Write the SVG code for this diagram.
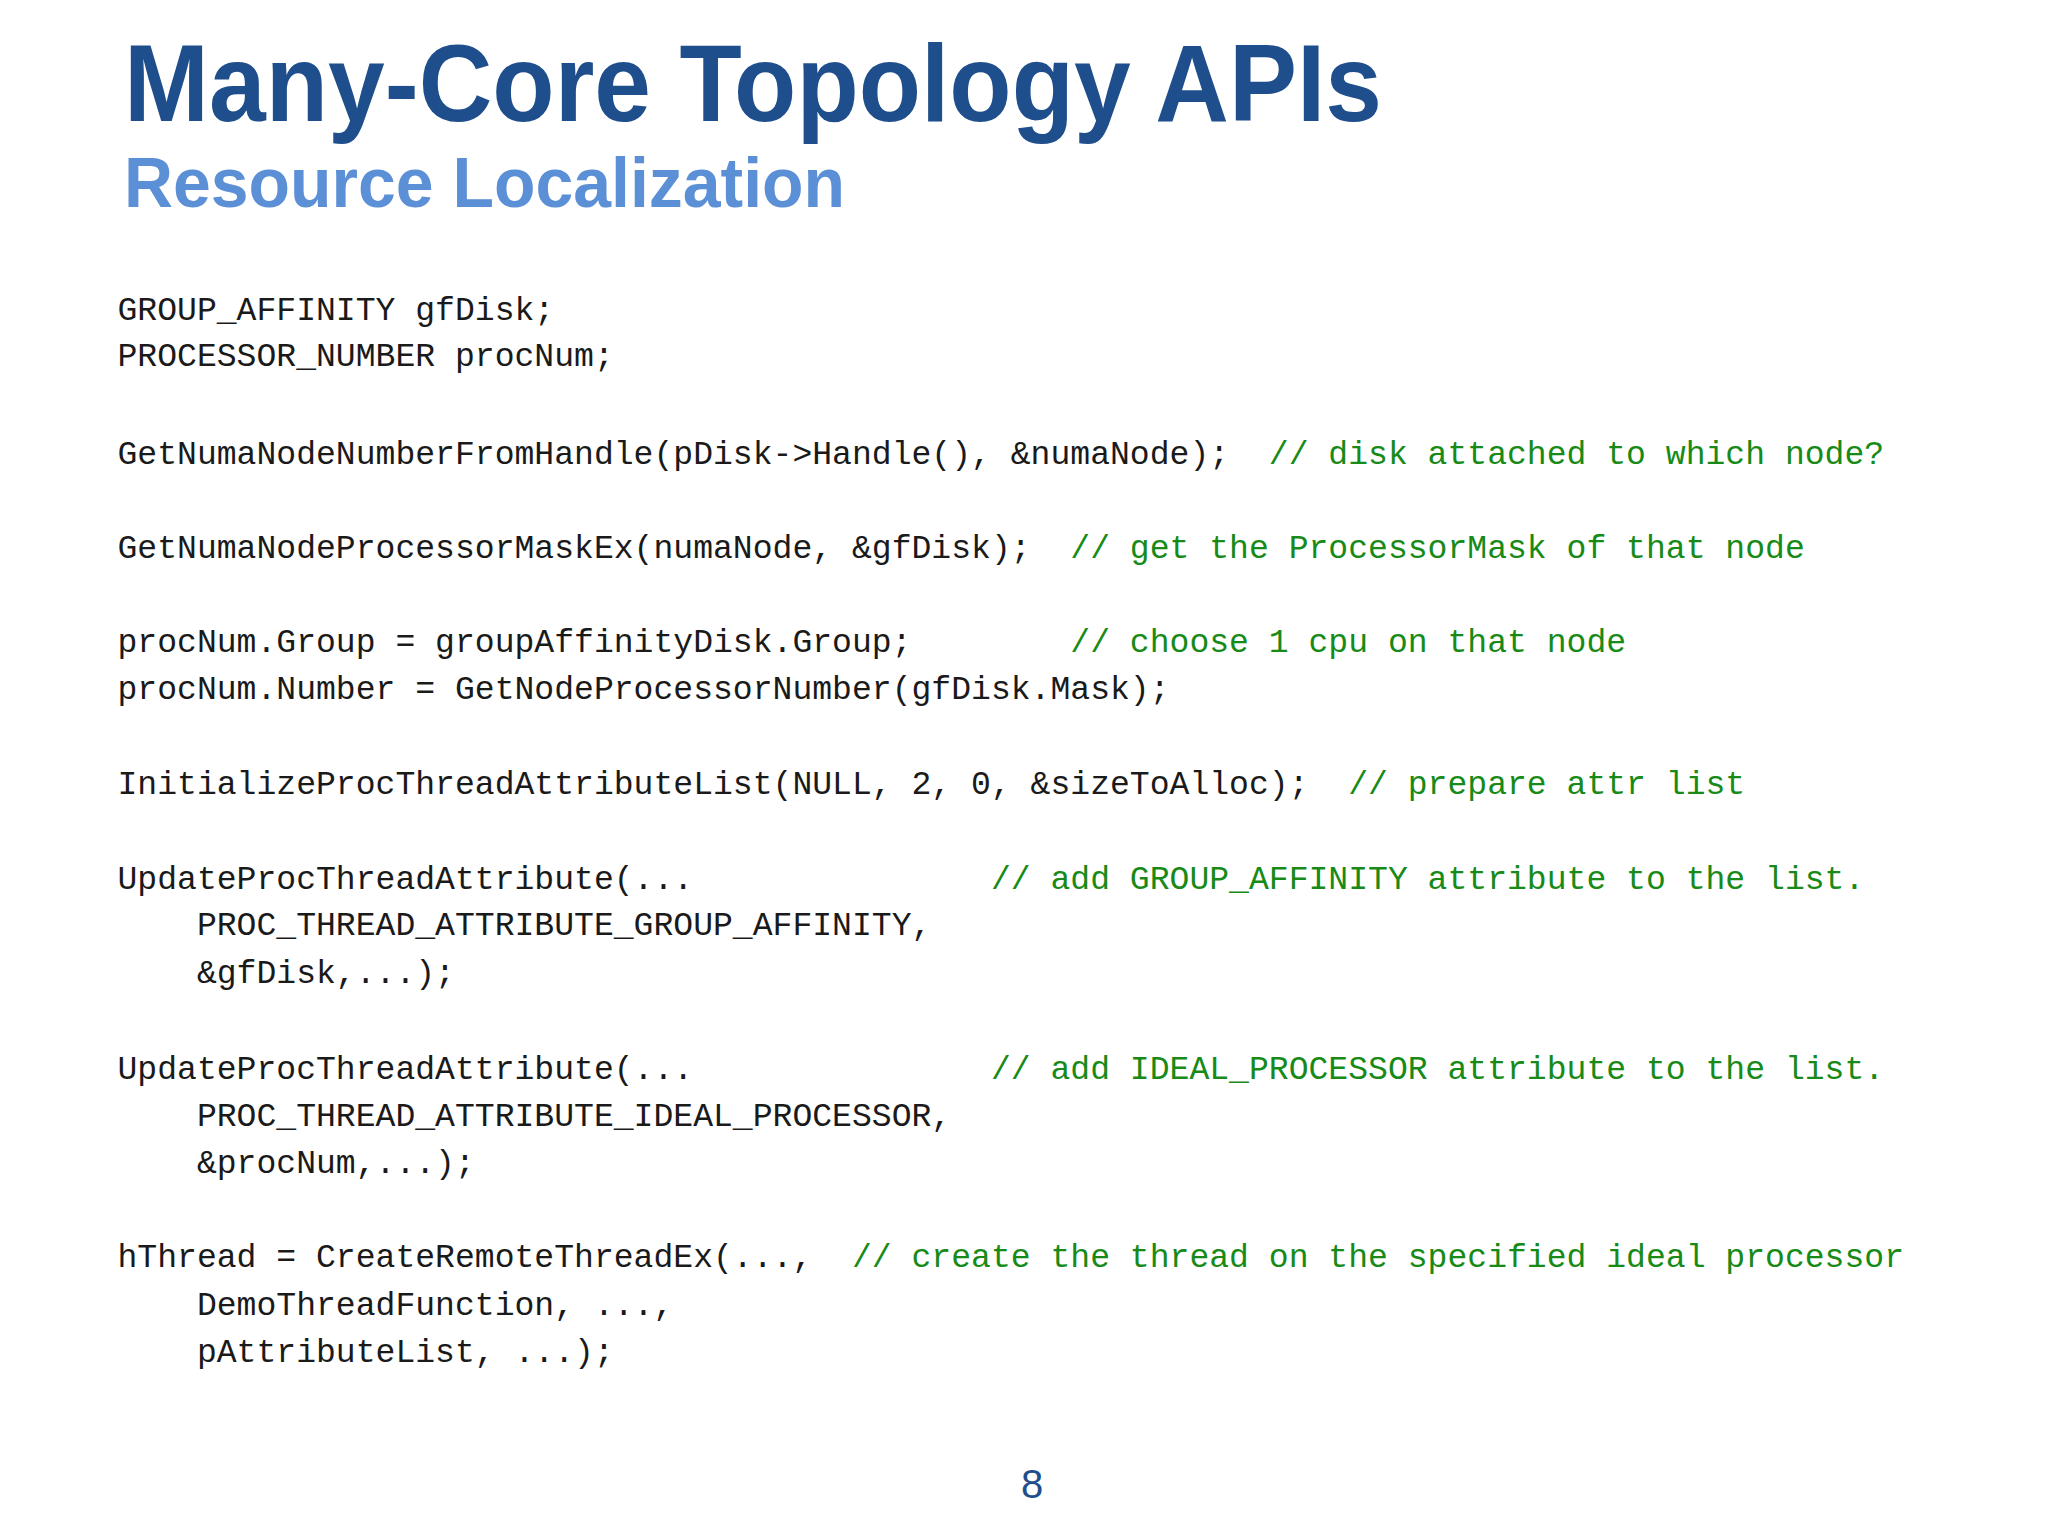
<svg xmlns="http://www.w3.org/2000/svg" width="2048" height="1536" viewBox="0 0 2048 1536">
<style>
.c{font-family:"Liberation Mono","DejaVu Sans Mono",monospace;font-size:33.1px;fill:#1a1a1a;white-space:pre}
.g{fill:#178a17}
</style>
<rect width="2048" height="1536" fill="#ffffff"/>
<text x="124" y="121" font-family="Liberation Sans, Arial, sans-serif" font-weight="bold" font-size="110" fill="#1f4e8c" textLength="1258" lengthAdjust="spacingAndGlyphs">Many-Core Topology APIs</text>
<text x="124" y="207" font-family="Liberation Sans, Arial, sans-serif" font-weight="bold" font-size="70" fill="#5b8fd6" textLength="721" lengthAdjust="spacingAndGlyphs">Resource Localization</text>
<g id="code" xml:space="preserve">
<text class="c" x="117.5" y="320">GROUP_AFFINITY gfDisk;</text>
<text class="c" x="117.5" y="366">PROCESSOR_NUMBER procNum;</text>
<text class="c" x="117.5" y="464">GetNumaNodeNumberFromHandle(pDisk-&gt;Handle(), &amp;numaNode);  <tspan class="g">// disk attached to which node?</tspan></text>
<text class="c" x="117.5" y="558">GetNumaNodeProcessorMaskEx(numaNode, &amp;gfDisk);  <tspan class="g">// get the ProcessorMask of that node</tspan></text>
<text class="c" x="117.5" y="652">procNum.Group = groupAffinityDisk.Group;        <tspan class="g">// choose 1 cpu on that node</tspan></text>
<text class="c" x="117.5" y="699">procNum.Number = GetNodeProcessorNumber(gfDisk.Mask);</text>
<text class="c" x="117.5" y="794">InitializeProcThreadAttributeList(NULL, 2, 0, &amp;sizeToAlloc);  <tspan class="g">// prepare attr list</tspan></text>
<text class="c" x="117.5" y="889">UpdateProcThreadAttribute(...               <tspan class="g">// add GROUP_AFFINITY attribute to the list.</tspan></text>
<text class="c" x="117.5" y="935">    PROC_THREAD_ATTRIBUTE_GROUP_AFFINITY,</text>
<text class="c" x="117.5" y="983">    &amp;gfDisk,...);</text>
<text class="c" x="117.5" y="1079">UpdateProcThreadAttribute(...               <tspan class="g">// add IDEAL_PROCESSOR attribute to the list.</tspan></text>
<text class="c" x="117.5" y="1126">    PROC_THREAD_ATTRIBUTE_IDEAL_PROCESSOR,</text>
<text class="c" x="117.5" y="1173">    &amp;procNum,...);</text>
<text class="c" x="117.5" y="1267">hThread = CreateRemoteThreadEx(...,  <tspan class="g">// create the thread on the specified ideal processor</tspan></text>
<text class="c" x="117.5" y="1315">    DemoThreadFunction, ...,</text>
<text class="c" x="117.5" y="1362">    pAttributeList, ...);</text>
</g>
<text x="1032" y="1498" text-anchor="middle" font-family="Liberation Sans, Arial, sans-serif" font-size="40" fill="#1f4e8c">8</text>
</svg>
